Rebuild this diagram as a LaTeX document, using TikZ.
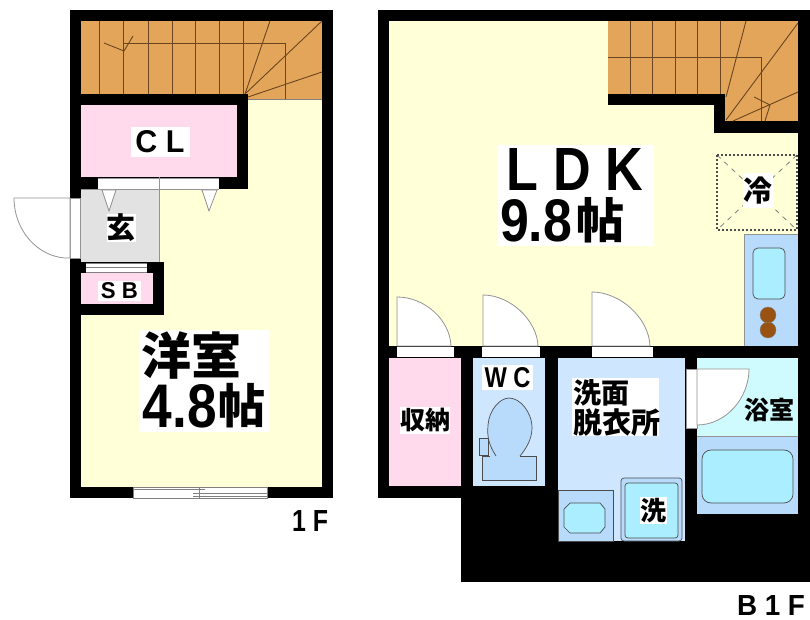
\documentclass[tikz,border=0pt]{standalone}
\usepackage{fontspec}
\usepackage{graphicx}
\setmainfont{Liberation Sans}
\newfontfamily\cjk{Noto Sans CJK JP}
\newcommand{\fitbox}[3]{\resizebox{#1pt}{#2pt}{\bfseries #3}}
\newcommand{\kfs}[1]{\cjk\bfseries\fontsize{#1}{#1}\selectfont}
\definecolor{floory}{HTML}{FFFFD8}
\definecolor{pinkr}{HTML}{FFD9EC}
\definecolor{stair}{HTML}{E3A55A}
\definecolor{stairl}{HTML}{6B4520}
\definecolor{blueb}{HTML}{B9DBFB}
\definecolor{bluew}{HTML}{CFE6FF}
\definecolor{cyanb}{HTML}{AAEEFF}
\definecolor{cyanl}{HTML}{CFFBFF}
\definecolor{gen}{HTML}{E2E2E2}
\definecolor{brownb}{HTML}{9A5212}
\tikzset{
  wall/.style={fill=black,draw=none},
  stl/.style={draw=stairl,line width=.9pt},
  thin gray/.style={draw=gray!85,line width=.8pt},
  door/.style={draw=gray!85,line width=.8pt,fill=white},
  fix/.style={draw=black!70,line width=.7pt},
  lab/.style={fill=white,inner sep=0pt,align=left,text=black},
  bare/.style={inner sep=0pt,align=left,text=black},
}
\begin{document}
\begin{tikzpicture}[x=1pt,y=-1pt]
\useasboundingbox (0,0) rectangle (810,620);
\fill[white] (0,0) rectangle (810,620);
% ---- 1F
\fill[wall] (70,10) rectangle (333,498);
\fill[floory] (81,21) rectangle (322,487);
% stairs 1F
\fill[stair] (81,21) rectangle (322,99);
\foreach \x in {99,123,148,172,195,219,243}{\draw[stl] (\x,21) -- (\x,94);}
\draw[stl] (245,94) -- (270,21);
\draw[stl] (245,94) -- (322,21);
\draw[stl] (248,97) -- (322,72);
\draw[stl] (123,43) -- (285,43) -- (285,99);
\draw[stl] (104,43) -- (124,51) -- (133,36);
\draw[gray,line width=.6pt] (248,99) -- (322,99);
% CL
\fill[wall] (70,94) rectangle (248,189);
\fill[pinkr] (81,105) rectangle (237,177);
\fill[white] (98,179) rectangle (219,189);
\draw[thin gray] (98,178) -- (219,178);
\draw[thin gray] (98,189) -- (219,189);
% genkan
\fill[gen] (81,189) rectangle (159,262);
\draw[thin gray] (159,177) -- (159,262);
\draw[thin gray] (81,189) -- (159,189);
\draw[door] (102,190) -- (116,190) -- (109,211) -- cycle;
\draw[door] (202,190) -- (217,190) -- (209,211) -- cycle;
% entrance door
\fill[white] (70,198) rectangle (81,258);
\draw[thin gray] (70,198) rectangle (80,258);
\draw[door] (14,198) -- (70,198) -- (70,258) -- (65,258) .. controls (37,256) and (14,230) .. (14,198);
% SB
\fill[wall] (70,262) rectangle (164,315);
\fill[pinkr] (81,273) rectangle (153,304);
\fill[white] (86,263) rectangle (147,273);
\draw[gray,line width=.6pt] (86,263) -- (147,263) (86,267) -- (147,267) (86,272) -- (147,272);
\fill[gen] (81,258) rectangle (159,262);
% window 1F
\fill[white] (133,487) rectangle (267,498);
\draw[gray,line width=.6pt] (133,487) rectangle (267,498);
\draw[gray,line width=.6pt] (133,489) -- (205,489) (193,493) -- (267,493) (199,487) -- (199,498) (193,496) -- (267,496);
% ---- B1F
\fill[wall] (378,10) rectangle (810,498);
\fill[wall] (461,498) rectangle (810,582);
\fill[floory] (389,21) rectangle (798,346);
% stairs
\fill[stair] (608,21) rectangle (798,121);
\fill[floory] (608,105) rectangle (714,121);
\fill[wall] (608,94) rectangle (725,105);
\fill[wall] (714,94) rectangle (725,133);
\fill[wall] (714,121) rectangle (798,133);
\foreach \x in {630,652,675,697,720}{\draw[stl] (\x,21) -- (\x,94);}
\draw[stl] (608,57) -- (761,57) -- (761,121);
\draw[stl] (726,97) -- (746,21);
\draw[stl] (726,120) -- (798,23);
\draw[stl] (733,121) -- (798,92);
\draw[stl] (754,97) -- (770,105) -- (765,121);
% fridge
\draw[gray,line width=.8pt,dash pattern=on 5pt off 5pt] (717,155) -- (797,230) (797,155) -- (717,230);
\draw[black!70,line width=1.2pt,dash pattern=on 2pt off 2pt] (717,155) rectangle (797,230);
% kitchen
\fill[blueb] (744,234) rectangle (798,346);
\draw[thin gray] (744,346) -- (744,234) -- (798,234);
\draw[fix,fill=cyanb,rounded corners=5pt] (753,248) rectangle (785,299);
\fill[brownb,draw=black!50] (768,315) circle (8);
\fill[brownb,draw=black!50] (768,330) circle (8);
% storage
\fill[pinkr] (389,358) rectangle (461,486);
% WC
\fill[bluew] (473,358) rectangle (545,486);
\draw[fix,fill=blueb] (482,456) -- (536,456) -- (536,480) -- (482,480) -- cycle;
\fill[blueb] (490,440) rectangle (520,457);
\draw[fix,fill=blueb] (496,456) .. controls (489,445) and (487,438) .. (488,425) .. controls (489,410) and (500,398) .. (509,398) .. controls (520,398) and (532,412) .. (532,428) .. controls (532,440) and (525,450) .. (520,456);
\fill[blueb] (497,450) rectangle (519,457);
\draw[fix,fill=blueb] (479,438) rectangle (488,455);
% wash
\fill[bluew] (558,358) rectangle (685,541);
\draw[fix,fill=blueb] (558,490) rectangle (613,541);
\draw[fix,fill=cyanb] (570,503) -- (600,503) -- (605,509) -- (605,527) -- (600,533) -- (570,533) -- (564,527) -- (564,509) -- cycle;
\draw[fix,fill=blueb,rounded corners=3pt] (621,478) rectangle (682,541);
\draw[fix,fill=cyanb,rounded corners=3pt] (625,483) rectangle (678,538);
% bath
\fill[cyanl] (697,358) rectangle (798,436);
\fill[blueb] (697,436) rectangle (798,514);
\draw[thin gray] (697,436) -- (798,436);
\draw[fix,fill=cyanb,rounded corners=9pt] (702,450) rectangle (793,503);
\fill[white] (686,369) rectangle (697,428);
\draw[thin gray] (686,369) rectangle (697,428);
\draw[door] (697,369) -- (749,369) .. controls (749,398) and (726,425) .. (697,425) -- cycle;
% doors below LDK
\fill[white] (397,347) rectangle (454,357);
\fill[white] (482,347) rectangle (540,357);
\fill[white] (592,347) rectangle (653,357);
\draw[door] (397,346) -- (397,297) .. controls (425,297) and (450,320) .. (451,346) -- cycle;
\draw[door] (483,346) -- (483,295) .. controls (510,295) and (537,320) .. (538,346) -- cycle;
\draw[door] (592,346) -- (592,292) .. controls (620,292) and (649,318) .. (650,346) -- cycle;
% labels
\node[lab,minimum width=59pt,minimum height=30pt] (cl) at (160,142) {\fitbox{49}{22}{C L}};
\node[lab,font=\kfs{29}] (gk) at (121,228) {玄};
\node[lab,minimum width=43pt,minimum height=20pt] (sb) at (119.5,291) {\fitbox{37}{16}{S B}};
\node[lab,minimum width=129pt,minimum height=102pt] (you) at (204.5,381) {};
\node[bare,font=\kfs{50}] (you1) at (191.5,355) {洋室};
\node[bare] (you2) at (180,406.5) {\fitbox{74}{43}{4.8}};
\node[bare,font=\kfs{47}] (you3) at (242,405.5) {帖};
\node[bare] (f1) at (310,521) {\fitbox{36}{21}{1 F}};
\node[lab,minimum width=156pt,minimum height=101pt] (ldkb) at (576,195.5) {};
\node[bare] (ldk) at (575,169) {\fitbox{136}{42}{L D K}};
\node[bare] (ldk2) at (536,221) {\fitbox{72}{42}{9.8}};
\node[bare,font=\kfs{48}] (ldk3) at (600,220.5) {帖};
\node[lab,font=\kfs{29},minimum width=30pt,minimum height=35pt] (re) at (758,190.5) {冷};
\node[lab,font=\kfs{25},minimum width=50pt,minimum height=27pt] (sn) at (425,420) {収納};
\node[lab,minimum width=51pt,minimum height=25pt] (wc) at (507.5,377.5) {\fitbox{46}{20}{W C}};
\node[lab,minimum width=87pt,minimum height=58pt] (smb) at (615.5,407) {};
\node[bare,font=\kfs{28}] (sm1) at (601,392.5) {洗面};
\node[bare,font=\kfs{29}] (sm2) at (616.5,423) {脱衣所};
\node[bare,font=\kfs{25}] (yk) at (769.5,409.5) {浴室};
\node[lab,font=\kfs{26},minimum width=27pt,minimum height=27pt] (sen) at (653,510.5) {洗};
\node[bare] (b1f) at (771,605) {\fitbox{68}{20}{B 1 F}};
\end{tikzpicture}
\end{document}
